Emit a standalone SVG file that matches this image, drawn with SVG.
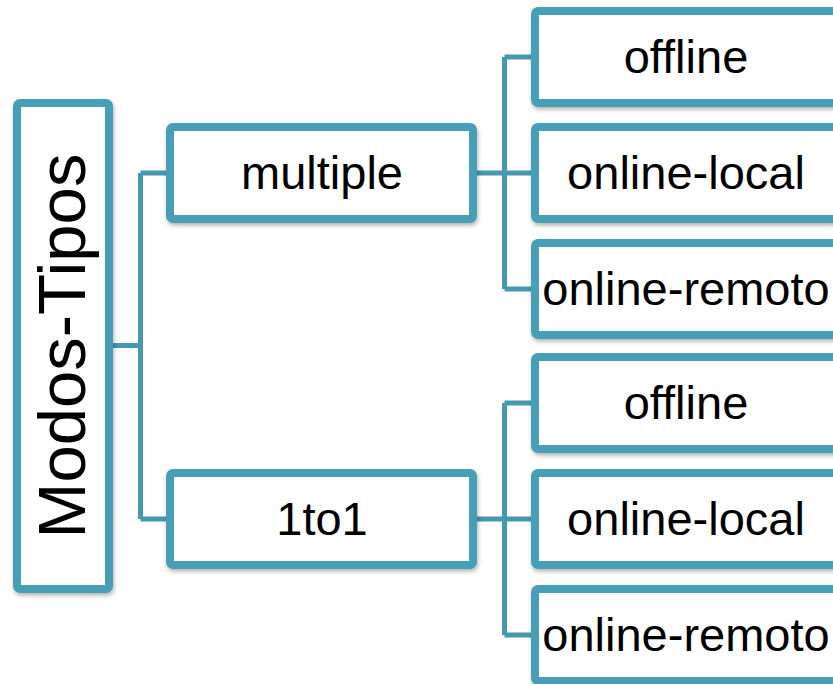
<svg xmlns="http://www.w3.org/2000/svg" width="833" height="684" viewBox="0 0 833 684">
  <defs>
    <filter id="shadow" x="-10%" y="-10%" width="120%" height="130%">
      <feDropShadow dx="1" dy="2.5" stdDeviation="2" flood-color="#000" flood-opacity="0.3"/>
    </filter>
    <style>
      .box { fill: #ffffff; stroke: #479eb6; stroke-width: 8; filter: url(#shadow); }
      .link { fill: none; stroke: #4498b0; stroke-width: 5; stroke-linejoin: miter; }
      .label { font-family: "Liberation Sans", Arial, sans-serif; font-size: 47px; fill: #000; text-anchor: middle; }
      .root-label { font-family: "Liberation Sans", Arial, sans-serif; font-size: 67px; fill: #000; text-anchor: middle; }
    </style>
  </defs>
  <rect width="833" height="684" fill="#ffffff"/>

  <!-- connectors -->
  <g id="connectors">
    <path class="link" d="M113 345.5 H140.5 M140.5 173 V519 M140.5 173 H170 M140.5 519 H170"/>
    <path class="link" d="M473 173 H535 M504.5 57 V289 M504.5 57 H535 M504.5 289 H535"/>
    <path class="link" d="M473 519 H535 M504.5 403 V635 M504.5 403 H535 M504.5 635 H535"/>
  </g>

  <!-- root -->
  <g id="root">
    <rect class="box" x="17" y="103" width="92" height="486" rx="3"/>
    <text class="root-label" transform="translate(85 346) rotate(-90)">Modos-Tipos</text>
  </g>

  <!-- first level -->
  <g id="multiple">
    <rect class="box" x="170" y="127" width="303" height="92" rx="3"/>
    <text class="label" x="322" y="189">multiple</text>
  </g>
  <g id="one-to-one">
    <rect class="box" x="170" y="473" width="303" height="92" rx="3"/>
    <text class="label" x="322" y="535">1to1</text>
  </g>

  <!-- second level under "multiple" -->
  <g id="multiple-offline">
    <rect class="box" x="535" y="11" width="302" height="92" rx="3"/>
    <text class="label" x="686" y="73">offline</text>
  </g>
  <g id="multiple-online-local">
    <rect class="box" x="535" y="127" width="302" height="92" rx="3"/>
    <text class="label" x="686" y="189">online-local</text>
  </g>
  <g id="multiple-online-remoto">
    <rect class="box" x="535" y="243" width="302" height="92" rx="3"/>
    <text class="label" x="686" y="305">online-remoto</text>
  </g>

  <!-- second level under "1to1" -->
  <g id="one-to-one-offline">
    <rect class="box" x="535" y="357" width="302" height="92" rx="3"/>
    <text class="label" x="686" y="419">offline</text>
  </g>
  <g id="one-to-one-online-local">
    <rect class="box" x="535" y="473" width="302" height="92" rx="3"/>
    <text class="label" x="686" y="535">online-local</text>
  </g>
  <g id="one-to-one-online-remoto">
    <rect class="box" x="535" y="589" width="302" height="92" rx="3"/>
    <text class="label" x="686" y="651">online-remoto</text>
  </g>
</svg>
